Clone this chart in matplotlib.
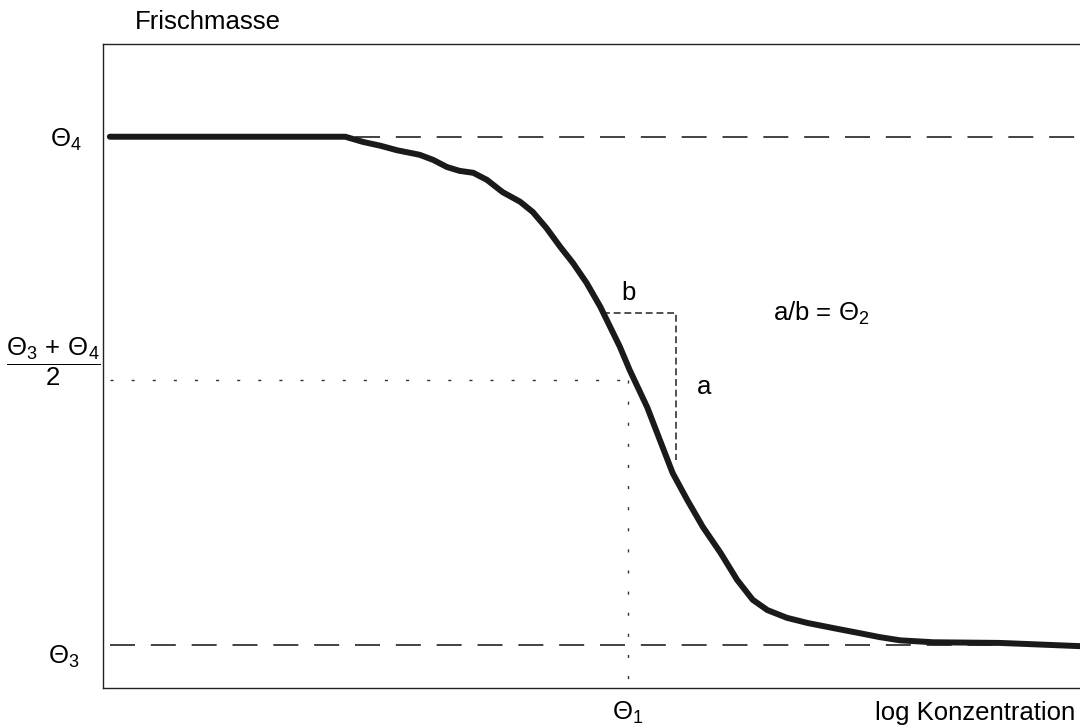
import matplotlib
matplotlib.use("Agg")
import matplotlib.pyplot as plt

# Dose-response (log-logistic) sketch: fresh mass vs. log concentration
# Values, axis scaled 0..100 both ways.
conc = [0.7, 24.8, 26.6, 28.4, 30.1, 32.4, 33.8, 35.2, 36.5, 37.9, 39.3, 40.9,
        42.7, 44.0, 45.4, 46.8, 48.1, 49.5, 50.9, 51.9, 52.9, 53.9, 55.7, 57.0,
        58.3, 59.8, 61.4, 63.2, 64.9, 66.5, 68.0, 70.0, 72.1, 75.1, 77.5, 79.5,
        81.6, 85.0, 91.8, 100.0]
mass = [85.6, 85.6, 84.8, 84.2, 83.5, 82.8, 82.0, 80.9, 80.3, 80.0, 78.9, 77.0,
        75.5, 73.9, 71.4, 68.5, 66.0, 62.9, 59.2, 56.1, 53.0, 49.4, 43.6, 38.5,
        33.4, 29.2, 25.0, 21.0, 16.8, 13.7, 12.1, 10.9, 10.1, 9.2, 8.5, 7.9,
        7.4, 7.1, 7.0, 6.5]

theta4 = 85.6      # upper asymptote
theta3 = 6.7       # lower asymptote
half = 47.8        # (theta3 + theta4) / 2 as drawn
theta1 = 53.7      # x at half response
slope_x = [51.2, 58.7]   # b (horizontal leg)
slope_y = [58.2, 35.4]   # a (vertical leg)

plt.rcParams['font.family'] = ['Liberation Sans', 'DejaVu Sans']
plt.rcParams['mathtext.fontset'] = 'custom'
plt.rcParams['mathtext.rm'] = 'Liberation Sans'
plt.rcParams['mathtext.it'] = 'Liberation Sans:italic'
plt.rcParams['font.size'] = 18.5

fig = plt.figure(figsize=(10.8, 7.28), dpi=100)
ax = fig.add_axes([103 / 1080, 40 / 728, 977 / 1080, 644 / 728])
ax.set_xlim(0, 100)
ax.set_ylim(0, 100)
ax.set_xticks([])
ax.set_yticks([])
ax.spines['right'].set_visible(False)
for s in ['left', 'top', 'bottom']:
    ax.spines[s].set_linewidth(1.0)
    ax.spines[s].set_color('#222222')

# asymptotes
ax.plot([0.7, 100], [theta4, theta4], color='#222222', lw=1.2, dashes=(15, 9.5))
ax.plot([0.7, 100], [theta3, theta3], color='#222222', lw=1.2, dashes=(15, 9.5))

# half response guides
ax.plot([0.7, theta1], [half, half], color='#333333', lw=1.0, dashes=(2.2, 13))
ax.plot([theta1, theta1], [half, 0], color='#333333', lw=1.0, dashes=(2.2, 13))

# slope triangle
ax.plot([slope_x[0], slope_x[1], slope_x[1]], [slope_y[0], slope_y[0], slope_y[1]],
        color='#222222', lw=1.1, dashes=(4.5, 2.5))

# curve
ax.plot(conc, mass, color='#1a1a1a', lw=4.3, solid_capstyle='round', solid_joinstyle='round')

# labels
fig.text(135 / 1080, 1 - 22 / 728, 'Frischmasse', ha='left', va='center')
fig.text(1075 / 1080, 1 - 713 / 728, 'log Konzentration', ha='right', va='center')
ax.annotate(r'$\Theta_4$', xy=(0, theta4), xytext=(-53, -3), textcoords='offset pixels',
            ha='left', va='center', annotation_clip=False)
ax.annotate(r'$\Theta_3$', xy=(0, theta3), xytext=(-55, -12), textcoords='offset pixels',
            ha='left', va='center', annotation_clip=False)
ax.annotate(r'$\dfrac{\Theta_3\,+\,\Theta_4}{2}$', xy=(0, half), xytext=(-50, 18),
            textcoords='offset pixels', ha='center', va='center', annotation_clip=False)
ax.annotate(r'$\Theta_1$', xy=(theta1, 0), xytext=(0, -25), textcoords='offset pixels',
            ha='center', va='center', annotation_clip=False)
ax.annotate('b', xy=(slope_x[0], slope_y[0]), xytext=(25, 20), textcoords='offset pixels',
            ha='center', va='center')
ax.annotate('a', xy=(slope_x[1], (slope_y[0] + slope_y[1]) / 2), xytext=(28, 0),
            textcoords='offset pixels', ha='center', va='center')
ax.text(68.6, slope_y[0], r'a/b = $\Theta_2$', ha='left', va='center')

fig.savefig('out.png', dpi=100)
